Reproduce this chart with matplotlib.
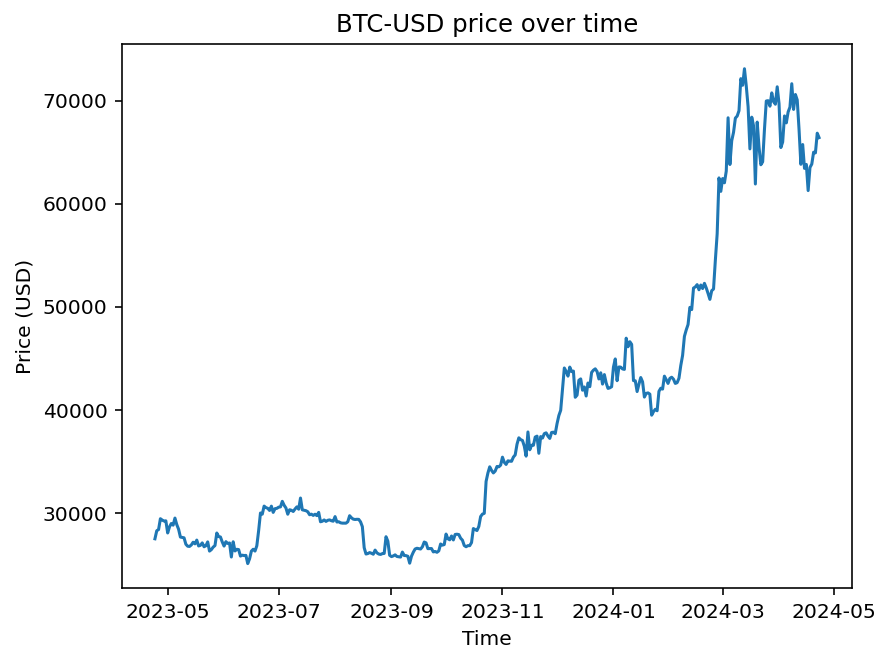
import numpy as np
import pandas as pd
import matplotlib
matplotlib.use('Agg')
import matplotlib.pyplot as plt
import matplotlib.dates as mdates

# daily BTC-USD closing prices, one list per month
prices_2023_04 = [27525, 28307, 28422, 29473, 29340, 29248, 29268]
prices_2023_05 = [28091, 28680, 29006, 28847, 29534, 28904, 28454, 27694, 27658, 27621,
                  27000, 26804, 26785, 26931, 27192, 27036, 27399, 26833, 26890, 27129,
                  26753, 26851, 27225, 26334, 26476, 26719, 26868, 28085, 27745, 27702, 27219]
prices_2023_06 = [26819, 27249, 27075, 27119, 25760, 27238, 26346, 26508, 26480, 25851,
                  25940, 25902, 25918, 25124, 25576, 26327, 26510, 26336, 26851, 28327,
                  30027, 29912, 30695, 30548, 30480, 30271, 30688, 30086, 30445, 30477]
prices_2023_07 = [30590, 30620, 31156, 30777, 30514, 29909, 30342, 30292, 30171, 30414,
                  30620, 30391, 31476, 30334, 30295, 30249, 30146, 29856, 29913, 29792,
                  29908, 29771, 30084, 29177, 29227, 29354, 29210, 29319, 29357, 29275, 29230]
prices_2023_08 = [29676, 29152, 29179, 29075, 29043, 29042, 29041, 29180, 29765, 29561,
                  29430, 29397, 29416, 29408, 29170, 28701, 26664, 26049, 26096, 26189,
                  26124, 26031, 26431, 26163, 26049, 26008, 26089, 26106, 27727, 27297, 25931]
prices_2023_09 = [25800, 25868, 25969, 25812, 25779, 25753, 26240, 25905, 25895, 25832,
                  25162, 25834, 26228, 26539, 26608, 26568, 26534, 26754, 27211, 27132,
                  26568, 26580, 26580, 26256, 26298, 26217, 26352, 27021, 26911, 26967]
prices_2023_10 = [27983, 27530, 27429, 27799, 27415, 27946, 27968, 27935, 27583, 27391,
                  26873, 26756, 26862, 26861, 27160, 28519, 28415, 28328, 28720, 29682,
                  29919, 29993, 33086, 33901, 34502, 34156, 33910, 34089, 34538, 34502, 34667]
prices_2023_11 = [35437, 34938, 34732, 35082, 35049, 35037, 35443, 35655, 36693, 37313,
                  37138, 37054, 36502, 35537, 37880, 36154, 36596, 36585, 37386, 37476,
                  35813, 37433, 37289, 37720, 37796, 37479, 37254, 37831, 37858, 37712]
prices_2023_12 = [38688, 39476, 39978, 41980, 44080, 43746, 43293, 44167, 43726, 43779,
                  41244, 41450, 42890, 43023, 41929, 42240, 41365, 42623, 42271, 43652,
                  43869, 43997, 43740, 43017, 43613, 42521, 43442, 42627, 42100, 42157, 42266]
prices_2024_01 = [44168, 44958, 42849, 44180, 44163, 43989, 43944, 46970, 46139, 46628,
                  46368, 42853, 42842, 41797, 42512, 43154, 42742, 41262, 41618, 41665,
                  41545, 39507, 39845, 40077, 39934, 41816, 42120, 42035, 43288, 42952, 42582]
prices_2024_02 = [43075, 43185, 42993, 42583, 42658, 43084, 44318, 45301, 47147, 47771,
                  48293, 49958, 49742, 51826, 51938, 52160, 51663, 52122, 51779, 52284,
                  51839, 51304, 50731, 51571, 51733, 54522, 57085, 62504, 61198]
prices_2024_03 = [62440, 62029, 63167, 68330, 63801, 66106, 66925, 68300, 68498, 69019,
                  72123, 71481, 73083, 71396, 69403, 65315, 68390, 67548, 61912, 67913,
                  65491, 63779, 64062, 67234, 69958, 69987, 69455, 70744, 69892, 69645, 71333]
prices_2024_04 = [69702, 65446, 65980, 68509, 67837, 68896, 69362, 71632, 69139, 70587,
                  70060, 67195, 63821, 65738, 63426, 63811, 61276, 63512, 63843, 64994,
                  64927, 66837, 66408]

prices = np.concatenate([prices_2023_04, prices_2023_05, prices_2023_06, prices_2023_07,
                         prices_2023_08, prices_2023_09, prices_2023_10, prices_2023_11,
                         prices_2023_12, prices_2024_01, prices_2024_02, prices_2024_03,
                         prices_2024_04])
dates = pd.date_range('2023-04-24', periods=len(prices), freq='D')

DPI = 146
fig = plt.figure(figsize=(877 / DPI, 649 / DPI), dpi=DPI)
ax = fig.add_axes([0.1388, 0.0935, 0.833, 0.8387])

ax.plot(dates, prices)
ax.set_title('BTC-USD price over time')
ax.set_xlabel('Time')
ax.set_ylabel('Price (USD)')

ax.xaxis.set_major_locator(mdates.MonthLocator(bymonth=[1, 3, 5, 7, 9, 11]))
ax.xaxis.set_major_formatter(mdates.DateFormatter('%Y-%m'))

fig.savefig('out.png', dpi=DPI)
